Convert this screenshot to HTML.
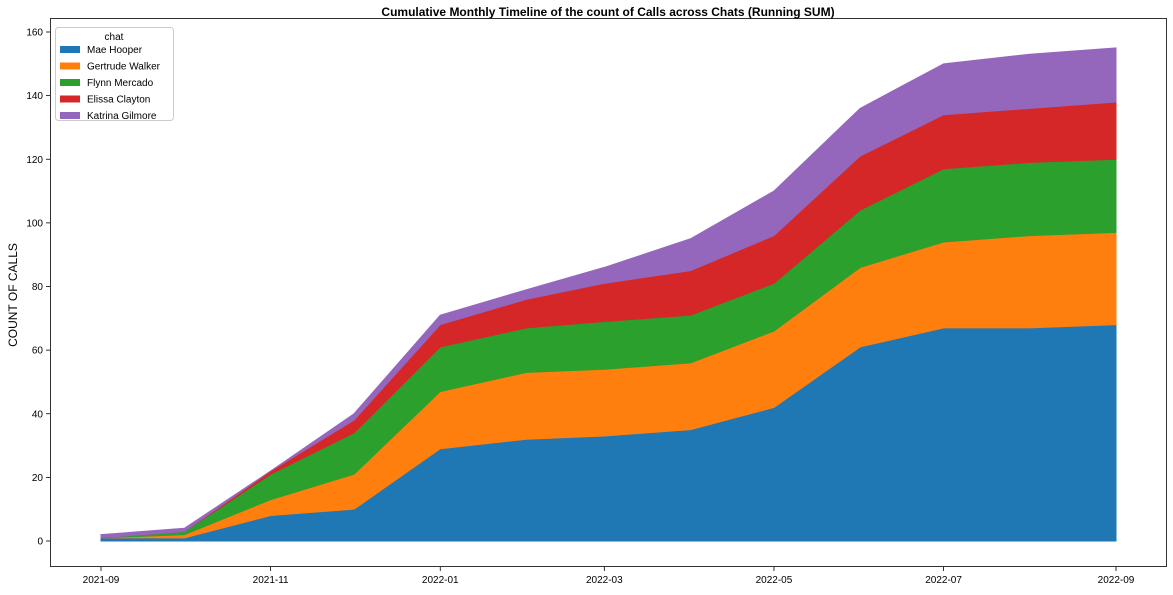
<!DOCTYPE html>
<html><head><meta charset="utf-8"><style>
body{margin:0;background:#fff;font-family:"Liberation Sans",sans-serif}
svg text{font-family:"Liberation Sans",sans-serif}
</style></head><body>
<svg id="chart" width="1173" height="590">
<text x="608" y="16" text-anchor="middle" font-size="12" font-weight="bold">Cumulative Monthly Timeline of the count of Calls across Chats (Running SUM)</text>
<text transform="translate(17,295) rotate(-90)" text-anchor="middle" font-size="12">COUNT OF CALLS</text>
<g id="areas"></g>
<rect x="50.5" y="18.5" width="1116" height="548" fill="none" stroke="#000" stroke-width="0.8"/>
<g id="axes"></g>
<g id="legend">
<rect x="55.5" y="27.5" width="118" height="93" rx="3" fill="#fff" fill-opacity="0.8" stroke="#ccc"/>
<text x="114" y="40" text-anchor="middle" font-size="10">chat</text>
</g>
</svg>
<script>
const months=["2021-09","2021-10","2021-11","2021-12","2022-01","2022-02","2022-03","2022-04","2022-05","2022-06","2022-07","2022-08","2022-09"];
const seriesNames=["Mae Hooper","Gertrude Walker","Flynn Mercado","Elissa Clayton","Katrina Gilmore"];
const mae=[1,1,8,10,29,32,33,35,42,61,67,67,68];
const gertrude=[0,1,5,11,18,21,21,21,24,25,27,29,29];
const flynn=[0,1,8,13,14,14,15,15,15,18,23,23,23];
const elissa=[0,0,1,4,7,9,12,14,15,17,17,17,18];
const katrina=[1,1,0,2,3,3,5,10,14,15,16,17,17];
const yTicks=[0,20,40,60,80,100,120,140,160];
const xTickLabels=["2021-09","2021-11","2022-01","2022-03","2022-05","2022-07","2022-09"];
const colors=["#1f77b4","#ff7f0e","#2ca02c","#d62728","#9467bd"];
const NS="http://www.w3.org/2000/svg";
const series=[mae,gertrude,flynn,elissa,katrina];
const t0=Date.parse("2021-09-01"),t1=Date.parse("2022-09-01");
function xs(m){return 101+(Date.parse(m+"-01")-t0)/(t1-t0)*(1116-101);}
function ys(v){return 541-v*(541-32)/160;}
const areas=document.getElementById('areas');
let base=months.map(()=>0);
series.forEach((s,i)=>{
  const top=base.map((b,j)=>b+s[j]);
  let d="M"+months.map((m,j)=>xs(m)+","+ys(top[j])).join("L");
  for(let j=months.length-1;j>=0;j--) d+="L"+xs(months[j])+","+ys(base[j]);
  d+="Z";
  const p=document.createElementNS(NS,'path');
  p.setAttribute('d',d);p.setAttribute('fill',colors[i]);p.setAttribute('stroke',colors[i]);p.setAttribute('stroke-width','1');
  
  
  areas.appendChild(p);
  base=top;
});
const axes=document.getElementById('axes');
function line(x1,y1,x2,y2){const l=document.createElementNS(NS,'line');l.setAttribute('x1',x1);l.setAttribute('y1',y1);l.setAttribute('x2',x2);l.setAttribute('y2',y2);l.setAttribute('stroke','#000');l.setAttribute('stroke-width','0.8');axes.appendChild(l);}
function text(x,y,s,anchor){const t=document.createElementNS(NS,'text');t.setAttribute('x',x);t.setAttribute('y',y);t.setAttribute('font-size','10');t.setAttribute('text-anchor',anchor);t.textContent=s;axes.appendChild(t);return t;}
yTicks.forEach(v=>{line(46,ys(v),50,ys(v));const t=text(43,ys(v)+3.5,String(v),'end');
  
  });
xTickLabels.forEach(m=>{line(xs(m),567,xs(m),571);const t=text(xs(m),583,m,'middle');
  
  });
const lg=document.getElementById('legend');
seriesNames.forEach((n,i)=>{
  const y=46+i*16.5;
  const r=document.createElementNS(NS,'rect');r.setAttribute('x',60);r.setAttribute('y',y);r.setAttribute('width',20);r.setAttribute('height',7);r.setAttribute('fill',colors[i]);
  
  
  lg.appendChild(r);
  const t=document.createElementNS(NS,'text');t.setAttribute('x',87);t.setAttribute('y',y+7);t.setAttribute('font-size','10');t.textContent=n;
  
  
  lg.appendChild(t);
});
</script>
</body></html>
